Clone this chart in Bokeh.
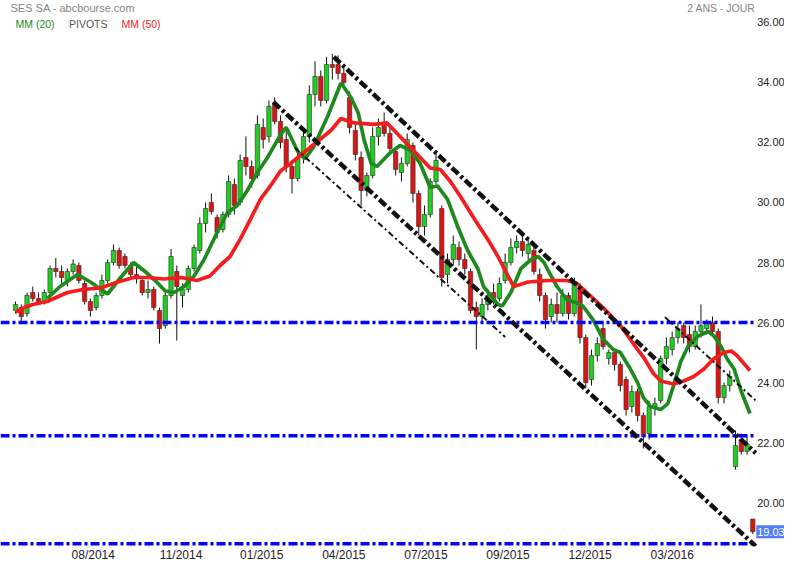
from bokeh.plotting import figure
from bokeh.models import Range1d, FixedTicker, Label, ColumnDataSource
from bokeh.embed import file_html
from bokeh.resources import INLINE
from bokeh.core.properties import value

# ---- data (one candle per 4 trading days, x = trading-day index) ----
opens = [26.4, 26.5, 26.3, 27.0, 26.8, 26.7, 27.0, 27.8, 27.7, 27.4,
         27.7, 27.9, 27.3, 26.7, 26.5, 26.9, 27.4, 28.0, 28.4, 28.2,
         27.9, 27.6, 27.4, 27.0, 27.1, 26.4, 25.9, 26.9, 27.7, 26.9,
         27.1, 27.8, 28.4, 29.3, 30.0, 29.5, 29.1, 29.6, 30.6, 30.0,
         31.5, 31.2, 30.9, 32.5, 32.2, 33.3, 32.7, 32.1, 31.2, 30.8,
         31.5, 32.2, 33.6, 34.2, 33.4, 34.6, 34.6, 34.3, 33.5, 32.4,
         31.5, 30.4, 30.9, 32.2, 32.6, 32.3, 31.7, 31.0, 31.3, 31.9,
         30.3, 29.2, 29.6, 30.7, 29.8, 27.6, 28.1, 28.5, 28.1, 27.7,
         26.5, 26.2, 26.6, 27.0, 26.8, 27.4, 28.0, 28.5, 28.7, 28.3,
         28.4, 27.6, 26.9, 26.2, 26.6, 26.3, 26.9, 26.3, 27.2, 25.5,
         24.1, 24.9, 25.8, 24.8, 25.0, 24.6, 24.1, 23.2, 23.7, 22.9,
         22.3, 23.2, 23.4, 24.8, 25.1, 25.5, 25.9, 25.6, 25.2, 25.7,
         25.8, 26.0, 25.7, 23.5, 23.9, 21.2, 22.1, 21.7, 19.45]
highs = [26.7, 26.6, 27.0, 27.2, 27.0, 27.1, 27.9, 28.15, 27.9, 27.8,
         28.1, 28.0, 27.4, 26.8, 27.0, 27.6, 28.1, 28.6, 28.5, 28.3,
         28.0, 27.9, 27.5, 27.4, 27.2, 26.5, 27.0, 28.45, 27.9, 27.3,
         27.9, 28.6, 29.5, 30.0, 30.3, 29.6, 29.7, 30.9, 30.8, 31.6,
         32.2, 31.4, 32.9, 32.8, 33.4, 33.5, 32.9, 32.4, 31.4, 31.7,
         32.4, 33.9, 34.7, 34.4, 34.85, 34.95, 34.9, 34.6, 33.7, 32.6,
         31.7, 31.0, 32.5, 32.8, 33.0, 32.5, 31.8, 31.5, 32.3, 32.0,
         30.4, 29.9, 30.8, 31.7, 29.9, 28.3, 28.9, 28.7, 28.3, 27.8,
         26.7, 26.8, 27.1, 27.3, 27.5, 28.3, 28.8, 28.9, 28.9, 28.8,
         28.7, 27.8, 27.0, 26.8, 27.0, 27.1, 27.0, 27.5, 27.3, 25.6,
         25.1, 25.5, 26.05, 25.1, 25.1, 24.7, 24.2, 23.9, 23.8, 23.0,
         23.4, 23.5, 24.9, 25.5, 25.7, 26.0, 26.0, 25.9, 25.9, 26.6,
         26.1, 26.2, 25.8, 24.0, 24.4, 22.4, 22.3, 22.2, 19.45]
lows = [26.3, 25.95, 26.2, 26.7, 26.6, 26.6, 26.9, 27.5, 27.3, 27.2,
        27.6, 27.3, 26.6, 26.2, 26.4, 26.8, 27.3, 27.9, 27.8, 27.8,
        27.5, 27.3, 26.9, 26.8, 26.4, 25.3, 25.8, 26.8, 25.4, 26.5,
        27.0, 27.7, 28.3, 29.0, 29.6, 28.8, 29.0, 29.5, 29.6, 29.9,
        30.9, 30.5, 30.8, 31.8, 32.0, 32.6, 31.8, 31.0, 30.3, 30.7,
        31.3, 32.0, 33.2, 33.2, 33.3, 34.1, 34.1, 33.9, 32.3, 31.4,
        29.9, 30.2, 30.8, 31.9, 32.2, 31.6, 30.9, 30.7, 31.2, 30.0,
        28.9, 28.9, 29.5, 30.6, 27.2, 27.3, 27.9, 27.9, 27.6, 26.3,
        25.1, 26.0, 26.4, 26.6, 26.7, 27.3, 27.9, 28.3, 28.2, 28.1,
        27.6, 26.7, 25.8, 26.0, 26.0, 26.2, 26.1, 26.2, 25.3, 23.8,
        23.9, 24.7, 25.1, 24.6, 24.4, 23.7, 22.9, 23.0, 22.7, 21.8,
        22.1, 22.9, 23.3, 24.6, 24.9, 25.3, 25.3, 25.0, 25.1, 25.5,
        25.6, 25.6, 23.3, 23.3, 23.7, 21.1, 21.6, 21.6, 18.95]
closes = [26.6, 26.2, 26.9, 26.8, 26.7, 27.0, 27.8, 27.7, 27.5, 27.7,
          27.95, 27.4, 26.7, 26.4, 26.9, 27.4, 28.0, 28.4, 27.9, 27.9,
          27.6, 27.5, 27.0, 27.1, 26.5, 25.8, 26.9, 28.2, 27.2, 27.1,
          27.8, 28.5, 29.3, 29.8, 29.7, 29.0, 29.6, 30.7, 29.9, 31.4,
          31.2, 30.8, 32.6, 32.1, 33.2, 32.7, 32.0, 31.2, 30.8, 31.5,
          32.2, 33.6, 34.2, 33.4, 34.6, 34.5, 34.3, 34.0, 32.5, 31.6,
          30.4, 30.9, 32.2, 32.5, 32.3, 31.8, 31.1, 31.3, 32.1, 30.3,
          29.2, 29.6, 30.7, 31.4, 27.5, 28.1, 28.6, 28.1, 27.8, 26.4,
          26.2, 26.6, 26.9, 26.8, 27.3, 28.0, 28.5, 28.7, 28.4, 28.6,
          27.7, 26.9, 26.1, 26.6, 26.3, 26.9, 26.3, 27.3, 25.5, 24.0,
          24.9, 25.3, 25.2, 25.0, 24.6, 23.9, 23.1, 23.7, 22.9, 22.2,
          23.2, 23.3, 24.8, 25.2, 25.5, 25.8, 25.5, 25.2, 25.7, 25.9,
          26.0, 25.7, 23.5, 23.9, 24.2, 21.9, 21.7, 21.95, 19.03]
days = [4 * i for i in range(len(opens))]

ma20_days = [22, 31, 43, 52, 64, 73, 82, 90, 97, 104,
             110, 117, 124, 131, 140, 147, 154, 161, 168, 175,
             184, 188, 196, 201, 207, 217, 226, 233, 238, 242,
             247, 251, 260, 267, 274, 281, 288, 293, 300, 307,
             314, 321, 325, 330, 335, 338, 344, 351, 358, 363,
             367, 372, 376, 383, 390, 394, 401, 408, 415, 420,
             427, 432, 436, 441, 448, 453, 457, 462, 467, 474,
             481, 485, 490, 494, 499, 504, 510]
ma20_vals = [26.8, 27.2, 27.6, 27.35, 26.95, 27.5, 28.0, 27.7, 27.4, 27.05,
             27.0, 27.2, 27.55, 28.1, 29.0, 29.65, 29.9, 30.4, 31.0, 31.5,
             32.25, 32.5, 31.7, 31.45, 31.85, 32.9, 33.98, 33.5, 32.98, 32.1,
             31.3, 31.2, 31.65, 31.9, 31.75, 31.3, 30.5, 30.55, 30.1, 29.2,
             28.4, 27.8, 27.2, 26.9, 26.6, 26.55, 27.0, 27.8, 28.1, 28.2,
             28.0, 27.55, 27.2, 26.75, 26.65, 26.55, 26.1, 25.45, 25.1, 25.0,
             24.45, 24.0, 23.5, 23.2, 23.1, 23.3, 23.9, 24.7, 25.2, 25.55,
             25.7, 25.55, 25.2, 24.8, 24.45, 23.7, 22.97]

ma50_days = [0, 6, 12, 22, 36, 47, 59, 71, 82, 92,
             103, 115, 126, 135, 142, 149, 156, 163, 170, 177,
             184, 191, 205, 219, 226, 235, 249, 258, 265, 274,
             283, 288, 295, 302, 309, 318, 328, 335, 342, 346,
             356, 369, 383, 390, 399, 408, 420, 429, 436, 443,
             448, 457, 464, 471, 478, 485, 492, 497, 501, 510]
ma50_vals = [26.35, 26.5, 26.6, 26.7, 27.0, 27.1, 27.15, 27.35, 27.5, 27.5,
             27.45, 27.5, 27.4, 27.55, 27.9, 28.2, 28.77, 29.43, 30.1, 30.55,
             31.05, 31.3, 31.85, 32.4, 32.8, 32.65, 32.6, 32.65, 32.3, 31.85,
             31.4, 31.15, 31.1, 30.7, 30.2, 29.5, 28.77, 28.2, 27.55, 27.2,
             27.35, 27.4, 27.4, 27.3, 26.9, 26.5, 25.9, 25.3, 24.85, 24.3,
             24.05, 23.95, 24.05, 24.2, 24.45, 24.8, 25.0, 25.05, 24.9, 24.4]

pivots = [26.0, 22.23, 18.63]

trend_x0 = [221, 179, 194, 451]
trend_y0 = [34.85, 33.35, 31.82, 26.18]
trend_x1 = [514, 514, 340, 514]
trend_y1 = [21.65, 18.55, 25.52, 23.40]
trend_thick = [True, True, False, False]

tick_days = [54, 115, 171, 228, 285, 342, 399, 456]
tick_labels = ["08/2014", "11/2014", "01/2015", "04/2015",
               "07/2015", "09/2015", "12/2015", "03/2016"]
price_ticks = [20, 22, 24, 26, 28, 30, 32, 34, 36]
last_price = 19.03

# ---- layout constants (trading-day units / price units) ----
x_start, x_end = -10.42, 534.0      # full canvas width
chart_end = 513.9                   # right edge of the price area
label_x = 515.0                     # price scale text column
box_left, box_half = 514.4, 0.215   # last-price tag

p = figure(width=784, height=564,
           x_range=Range1d(x_start, x_end), y_range=Range1d(18.537, 36.73),
           y_axis_location=None, output_backend="svg", toolbar_location=None,
           min_border_left=0, min_border_right=0, min_border_top=0, min_border_bottom=0)
p.outline_line_color = None
p.background_fill_color = "white"
p.border_fill_color = "white"
p.xgrid.visible = False
p.ygrid.visible = False

ax = p.xaxis[0]
ax.axis_line_color = None
ax.major_tick_line_color = None
ax.minor_tick_line_color = None
ax.major_tick_out = 0
ax.major_tick_in = 0
ax.major_label_text_font = "Liberation Sans"
ax.major_label_text_color = "#222222"
ax.major_label_text_font_size = "12px"
ax.major_label_standoff = 1
ax.ticker = FixedTicker(ticks=tick_days)
ax.major_label_overrides = dict(zip(tick_days, tick_labels))

# ---- candles ----
up_col, dn_col = "#1fd11f", "#dd1414"
src = ColumnDataSource(dict(
    x=days, high=highs, low=lows,
    top=[max(o, c) for o, c in zip(opens, closes)],
    bottom=[min(o, c) for o, c in zip(opens, closes)],
    color=[up_col if c >= o else dn_col for o, c in zip(opens, closes)],
))
p.segment(x0="x", y0="low", x1="x", y1="high", source=src, line_color="#111111", line_width=1)
p.vbar(x="x", width=3.0, top="top", bottom="bottom", source=src,
       fill_color="color", line_color="#2a2a2a", line_width=0.6)

# ---- moving averages ----
p.line(ma20_days, ma20_vals, line_color="#1e8a1e", line_width=3.7)
p.line(ma50_days, ma50_vals, line_color="#f41c1c", line_width=3.7)

# ---- pivots ----
p.segment(x0=[x_start] * len(pivots), y0=pivots, x1=[chart_end] * len(pivots), y1=pivots,
          line_color="#0000ff", line_width=3.5, line_dash="9 3 3 3")

# ---- trend lines ----
thick = [i for i, t in enumerate(trend_thick) if t]
thin = [i for i, t in enumerate(trend_thick) if not t]
p.segment(x0=[trend_x0[i] for i in thick], y0=[trend_y0[i] for i in thick],
          x1=[trend_x1[i] for i in thick], y1=[trend_y1[i] for i in thick],
          line_color="#111111", line_width=4.5, line_dash="9 3 3 3")
p.segment(x0=[trend_x0[i] for i in thin], y0=[trend_y0[i] for i in thin],
          x1=[trend_x1[i] for i in thin], y1=[trend_y1[i] for i in thin],
          line_color="#111111", line_width=2, line_dash="6 3 2 3")

# ---- price scale (right) ----
p.text(x=[label_x] * len(price_ticks), y=price_ticks,
       text=[f"{t:.2f}" for t in price_ticks],
       text_font=value("Liberation Sans"), text_font_size="11px",
       text_color="#222222", text_baseline="middle", text_align="left")

# last-price tag
p.quad(left=[box_left], right=[x_end], top=[last_price + box_half], bottom=[last_price - box_half],
       fill_color="#4f7ef5", line_color=None)
p.text(x=[label_x], y=[last_price], text=[f"{last_price:.2f}"],
       text_font=value("Liberation Sans"), text_font_size="11px",
       text_color="white", text_baseline="middle", text_align="left")

# ---- header texts ----
FH = 548
def lab(text, x, ytop, color, size, align="left"):
    p.add_layout(Label(x=x, y=FH - ytop, x_units="screen", y_units="screen", text=text,
                       text_color=color, text_font_size=size, text_font="Liberation Sans",
                       text_align=align, text_baseline="middle"))

lab("SES SA - abcbourse.com", 10, 9, "#858585", "11px")
lab("2 ANS - JOUR", 755, 9, "#858585", "10.5px", "right")
lab("MM (20)", 15, 25.5, "#1e8a1e", "10.5px")
lab("PIVOTS", 68.5, 25.5, "#555555", "10.5px")
lab("MM (50)", 121, 25.5, "#f41c1c", "10.5px")

open("out.html", "w").write(file_html(p, INLINE))
